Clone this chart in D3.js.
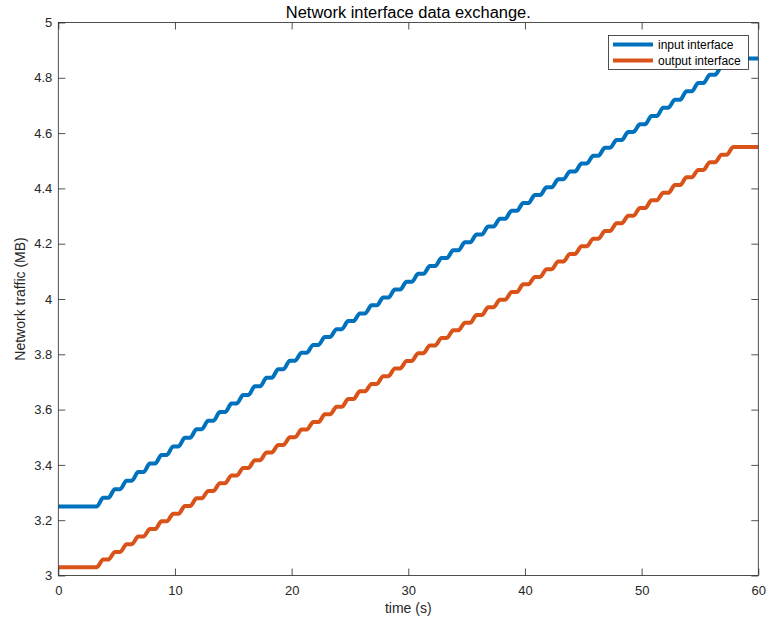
<!DOCTYPE html>
<html><head><meta charset="utf-8">
<script src="https://cdn.jsdelivr.net/npm/d3@7"></script>
<style>
html,body{margin:0;padding:0;background:#fff;}
text{font-family:"Liberation Sans",Arial,sans-serif;}
</style></head>
<body><svg id="c" width="767" height="621"></svg>
<script>
// per-second plateau levels (MB), index = second
const inputLevels = [3.25,3.25,3.25,3.281,3.312,3.343,3.374,3.405,3.436,3.467,
 3.498,3.529,3.560,3.591,3.622,3.653,3.684,3.715,3.746,3.777,
 3.806,3.834,3.863,3.891,3.920,3.948,3.977,4.005,4.034,4.062,
 4.091,4.119,4.148,4.176,4.205,4.233,4.262,4.290,4.319,4.347,
 4.376,4.404,4.433,4.461,4.490,4.518,4.547,4.575,4.604,4.632,
 4.662,4.692,4.721,4.751,4.781,4.811,4.840,4.870,4.870,4.870];
const outputLevels = [3.030,3.030,3.030,3.058,3.085,3.113,3.141,3.168,3.196,3.223,
 3.251,3.279,3.306,3.334,3.362,3.389,3.417,3.445,3.472,3.500,
 3.528,3.555,3.583,3.610,3.638,3.666,3.693,3.721,3.749,3.776,
 3.804,3.832,3.859,3.887,3.914,3.942,3.970,3.997,4.025,4.053,
 4.080,4.108,4.136,4.163,4.191,4.218,4.246,4.274,4.301,4.329,
 4.357,4.384,4.412,4.440,4.467,4.495,4.522,4.550,4.550,4.550];
const seriesNames = ["input interface","output interface"];
const xTicks = [0,10,20,30,40,50,60];
const yTicks = [3,3.2,3.4,3.6,3.8,4,4.2,4.4,4.6,4.8,5];
const titleText = "Network interface data exchange.";
const xLabel = "time (s)";
const yLabel = "Network traffic (MB)";

const colors = ["#0072BD","#D95319"];
const axisColor = "#262626";
const L = 58.3, R = 758.3, T = 22.5, B = 575.5;

const svg = d3.select("#c");
const x = d3.scaleLinear().domain([0,60]).range([L,R]);
const y = d3.scaleLinear().domain([3,5]).range([B,T]);

function toPoints(levels){
  const pts = [[0, levels[0]]];
  for (let k = 0; k < levels.length; k++){
    const prev = k === 0 ? levels[0] : levels[k-1];
    pts.push([k + 0.3, prev]);
    pts.push([k + 0.85, levels[k]]);
  }
  pts.push([60, levels[levels.length-1]]);
  return pts;
}

const line = d3.line().x(d=>x(d[0])).y(d=>y(d[1])).curve(d3.curveMonotoneX);

svg.append("clipPath").attr("id","clp").append("rect")
  .attr("x",L).attr("y",T).attr("width",R-L).attr("height",B-T);

[inputLevels, outputLevels].forEach((lv,i)=>{
  svg.append("path").attr("d", line(toPoints(lv)))
    .attr("fill","none").attr("stroke",colors[i]).attr("stroke-width",4)
    .attr("stroke-linejoin","round").attr("clip-path","url(#clp)");
});

// axes
const fmt = d => String(d);
function styleAxis(g){
  g.select(".domain").remove();
  g.selectAll(".tick line").attr("stroke",axisColor).attr("stroke-width",0.8);
  g.selectAll(".tick text").attr("fill",axisColor).style("font-size","13px");
}
svg.append("g").attr("transform",`translate(0,${B})`)
  .call(d3.axisBottom(x).tickValues(xTicks).tickSize(-7).tickPadding(10).tickFormat(fmt)).call(styleAxis);
svg.append("g").attr("transform",`translate(0,${T})`)
  .call(d3.axisTop(x).tickValues(xTicks).tickSize(-7).tickFormat("")).call(styleAxis);
svg.append("g").attr("transform",`translate(${L},0)`)
  .call(d3.axisLeft(y).tickValues(yTicks).tickSize(-7).tickPadding(6).tickFormat(fmt)).call(styleAxis);
svg.append("g").attr("transform",`translate(${R},0)`)
  .call(d3.axisRight(y).tickValues(yTicks).tickSize(-7).tickFormat("")).call(styleAxis);

svg.append("rect").attr("x",L).attr("y",T).attr("width",R-L).attr("height",B-T)
  .attr("fill","none").attr("stroke",axisColor).attr("stroke-width",0.8);

// labels
svg.append("text").attr("x",(L+R)/2).attr("y",18).attr("text-anchor","middle")
  .style("font-size","16px").attr("fill","#000")
  .attr("textLength",245).attr("lengthAdjust","spacingAndGlyphs").text(titleText);
svg.append("text").attr("x",(L+R)/2).attr("y",613).attr("text-anchor","middle")
  .style("font-size","14px").attr("fill",axisColor).text(xLabel);
svg.append("text").attr("transform",`translate(25,${(T+B)/2}) rotate(-90)`).attr("text-anchor","middle")
  .style("font-size","14px").attr("fill",axisColor).text(yLabel);

// legend
const lg = svg.append("g");
lg.append("rect").attr("x",608.5).attr("y",35.5).attr("width",140).attr("height",34)
  .attr("fill","#fff").attr("stroke",axisColor).attr("stroke-width",0.8);
seriesNames.forEach((n,i)=>{
  const yy = 44.5 + i*16;
  lg.append("line").attr("x1",613).attr("x2",653).attr("y1",yy).attr("y2",yy)
    .attr("stroke",colors[i]).attr("stroke-width",4);
  lg.append("text").attr("x",658).attr("y",yy+4).style("font-size","12px")
    .attr("fill","#000").text(n);
});
</script></body></html>
